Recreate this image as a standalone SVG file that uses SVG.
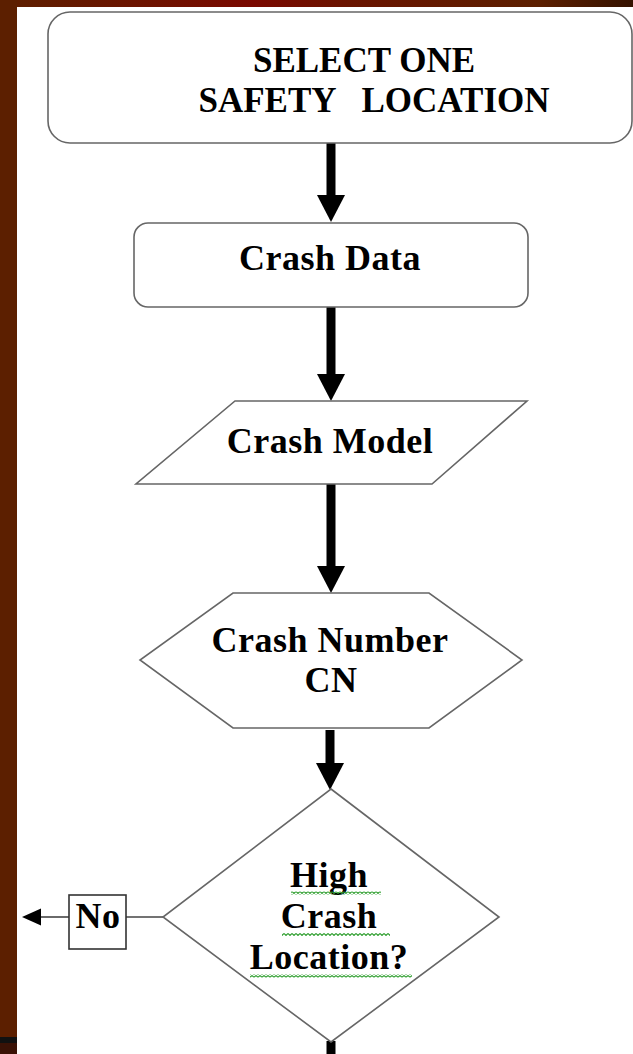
<svg xmlns="http://www.w3.org/2000/svg" width="633" height="1054" viewBox="0 0 633 1054">
<defs>
<style>
.shape{fill:#fff;stroke:#666;stroke-width:1.6}
.lbl{font-family:"Liberation Serif","Times New Roman",serif;font-weight:bold;font-size:36px;letter-spacing:0.5px;fill:#000;text-anchor:middle}
.top{font-size:35px;letter-spacing:0}
.pre{white-space:pre}
.shaft{stroke:#000;stroke-width:9;fill:none}
.thin{stroke:#444;stroke-width:1.6;fill:none}
</style>
<linearGradient id="topbar" x1="0" y1="0" x2="1" y2="0">
<stop offset="0" stop-color="#5c1f00"/>
<stop offset="0.25" stop-color="#6e1200"/>
<stop offset="0.4" stop-color="#7a0800"/>
<stop offset="0.55" stop-color="#6a1400"/>
<stop offset="0.85" stop-color="#5c1f00"/>
<stop offset="1" stop-color="#351200"/>
</linearGradient>
<marker id="ah" markerUnits="userSpaceOnUse" viewBox="0 0 27 28" markerWidth="27" markerHeight="28" refX="0" refY="14" orient="auto">
<path d="M0 0 L27 14 L0 28 Z" fill="#000"/>
</marker>
<pattern id="squig" patternUnits="userSpaceOnUse" width="4" height="3">
<path d="M0 0.5 L2 2.5 L4 0.5" fill="none" stroke="#2e9e2e" stroke-width="1.1"/>
</pattern>
</defs>
<g id="background">
<rect x="0" y="0" width="633" height="1054" fill="#fff"/>
<rect x="0" y="0" width="633" height="7" fill="url(#topbar)"/>
<rect x="0" y="0" width="17" height="1054" fill="#5c1f00"/>
<rect x="0" y="1037" width="17" height="6" fill="#111"/>
<rect x="0" y="1043" width="17" height="11" fill="#3a1206"/>
</g>
<g id="connectors">
<line class="shaft" x1="331" y1="142" x2="331" y2="195" marker-end="url(#ah)"/>
<line class="shaft" x1="331" y1="307" x2="331" y2="374" marker-end="url(#ah)"/>
<line class="shaft" x1="331" y1="484" x2="331" y2="566" marker-end="url(#ah)"/>
<line class="shaft" x1="330" y1="730" x2="330" y2="763" marker-end="url(#ah)"/>
<line class="shaft" x1="331" y1="1041" x2="331" y2="1054"/>
<line class="thin" x1="163" y1="917" x2="126" y2="917"/>
<line class="thin" x1="69" y1="917" x2="40" y2="917"/>
<path d="M22 917 L41 908.5 L41 925.5 Z" fill="#000"/>
</g>
<g id="node-select">
<rect class="shape" x="48" y="12" width="584" height="131" rx="22" ry="22"/>
<text class="lbl top" x="364" y="72">SELECT ONE</text>
<text class="lbl top pre" x="374" y="112" xml:space="preserve">SAFETY   LOCATION</text>
</g>
<g id="node-crash-data">
<rect class="shape" x="134" y="223" width="394" height="84" rx="14" ry="14"/>
<text class="lbl" x="330" y="270">Crash Data</text>
</g>
<g id="node-crash-model">
<polygon class="shape" points="235,401 527,401 432,484 136,484"/>
<text class="lbl" x="330" y="453">Crash Model</text>
</g>
<g id="node-crash-number">
<polygon class="shape" points="233,593 429,593 522,660 429,728 233,728 140,660"/>
<text class="lbl" x="330" y="652">Crash Number</text>
<text class="lbl" x="331" y="692">CN</text>
</g>
<g id="node-decision">
<polygon class="shape" points="331,789 499,917 331,1042 163,917"/>
<text class="lbl" x="329" y="887">High</text>
<text class="lbl" x="329" y="928">Crash</text>
<text class="lbl" x="329" y="969">Location?</text>
<rect x="291" y="891.5" width="90" height="3" fill="url(#squig)"/>
<rect x="282" y="933" width="108" height="3" fill="url(#squig)"/>
<rect x="250" y="974.5" width="162" height="3" fill="url(#squig)"/>
</g>
<g id="node-no">
<rect x="69" y="895" width="57" height="54" fill="#fff" stroke="#333" stroke-width="1.6"/>
<text class="lbl" x="98" y="928">No</text>
</g>
</svg>
